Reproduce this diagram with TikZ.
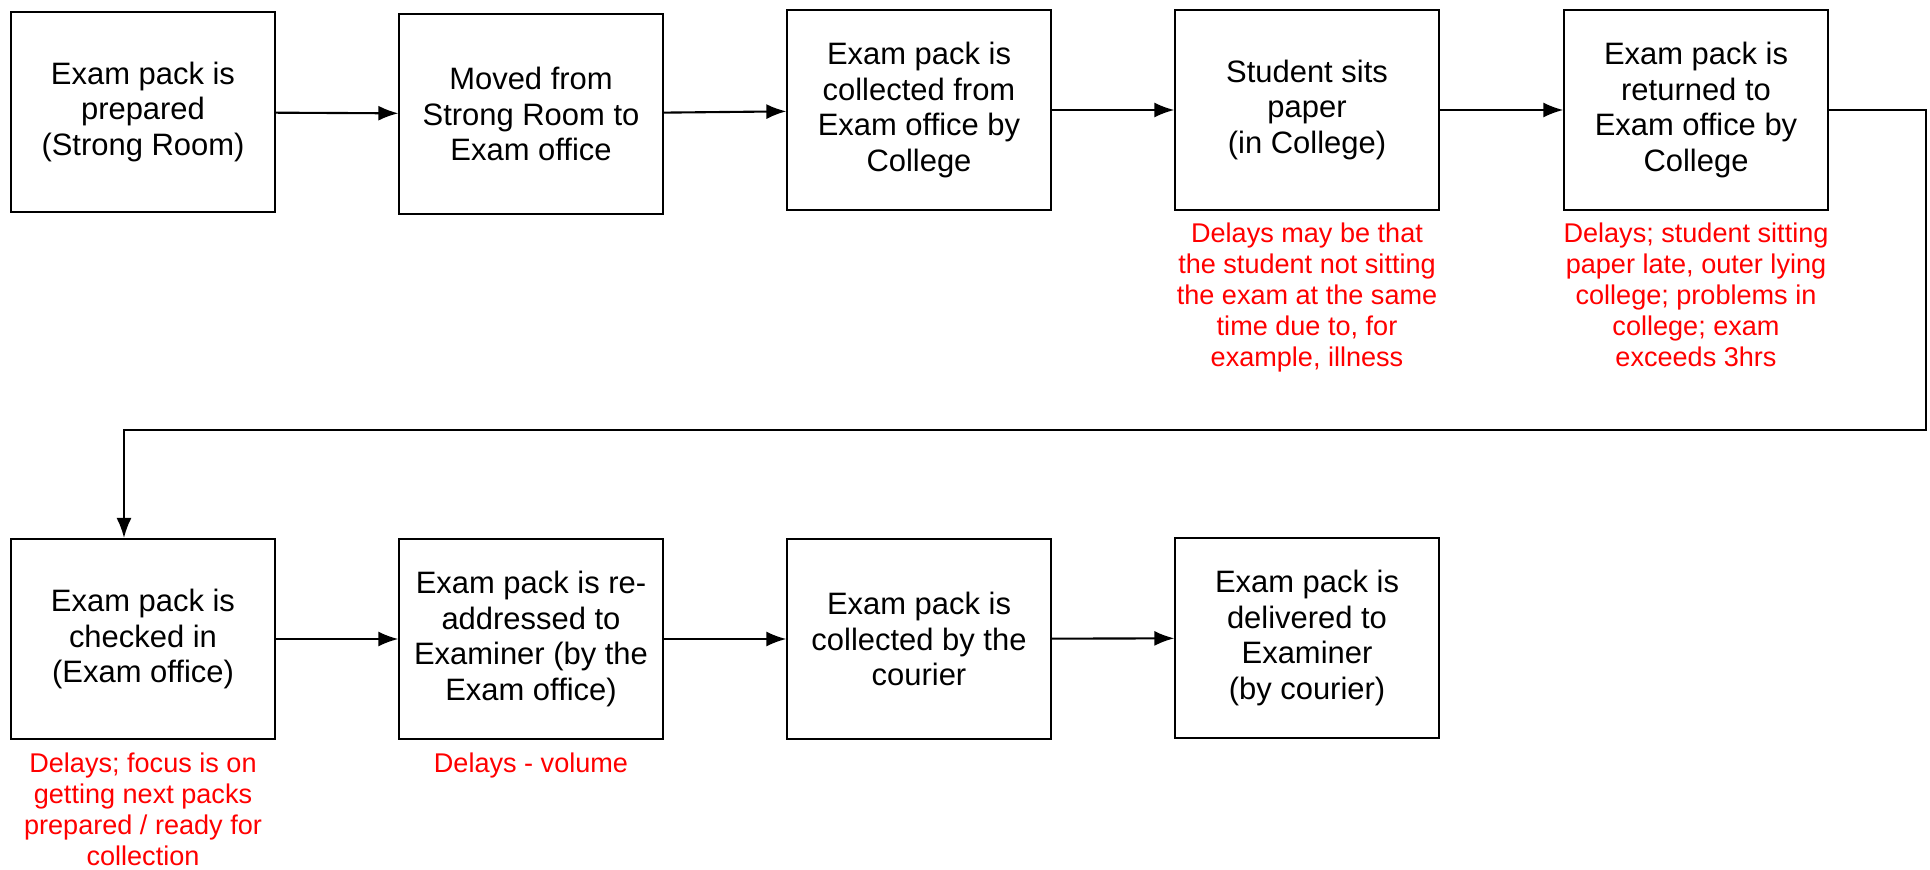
\documentclass[tikz,border=0pt]{standalone}
\usepackage{fontspec}
\setmainfont{Liberation Sans}
\usepackage{tikz}
\usetikzlibrary{arrows}
\usetikzlibrary{arrows.meta}
\usetikzlibrary{positioning}
\tikzset{>=latex}
\tikzstyle{stage} = [rectangle, draw=black, line width=0.6pt, minimum width=2.63cm, minimum height=2.0cm, align=center, font=\fontsize{8.8}{10.2}\selectfont]
\tikzstyle{delay} = [draw=none, align=center, text=red, inner sep=0pt, font=\fontsize{7.7}{8.85}\selectfont]
\tikzstyle{flow} = [-{Latex[length=0.2cm, width=0.15cm]}, line width=0.6pt]

\begin{document}
\begin{tikzpicture}[x=0.01cm, y=-0.01cm]
\useasboundingbox (0,0) rectangle (1930,870);
\node [stage] (pack) at (143, 112) {Exam pack is\\prepared\\(Strong Room)};
\node [stage] (moved) at (531, 114) {Moved from\\Strong Room to\\Exam office};
\node [stage] (collect) at (919, 110) {Exam pack is\\collected from\\Exam office by\\College};
\node [stage] (sits) at (1307, 110) {Student sits\\paper\\(in College)};
\node [stage] (return) at (1696, 110) {Exam pack is\\returned to\\Exam office by\\College};
\node [stage] (check) at (143, 639) {Exam pack is\\checked in\\(Exam office)};
\node [stage] (readdr) at (531, 639) {Exam pack is re-\\addressed to\\Examiner (by the\\Exam office)};
\node [stage] (courier) at (919, 639) {Exam pack is\\collected by the\\courier};
\node [stage] (deliver) at (1307, 638) {Exam pack is\\delivered to\\Examiner\\(by courier)};
% delays
\node [delay, below=0.11cm of sits] (dsits) {Delays may be that\\the student not sitting\\the exam at the same\\time due to, for\\example, illness};
\node [delay, below=0.11cm of return] (dreturn) {Delays; student sitting\\paper late, outer lying\\college; problems in\\college; exam\\exceeds 3hrs};
\node [delay, below=0.12cm of check] (dcheck) {Delays; focus is on\\getting next packs\\prepared / ready for\\collection};
\node [delay, below=0.12cm of readdr] (dreaddr) {Delays - volume};
% flow
\draw [flow] (pack) -- (moved);
\draw [flow] (moved) -- (collect);
\draw [flow] (collect) -- (sits);
\draw [flow] (sits) -- (return);
\coordinate (turn) at (1926, 430);
\coordinate (drop) at (124, 538);
\draw [flow] (return.east) -- (return.east -| turn) -- (turn) -| (drop);
\draw [flow] (check) -- (readdr);
\draw [flow] (readdr) -- (courier);
\draw [flow] (courier) -- (deliver);
\end{tikzpicture}
\end{document}
